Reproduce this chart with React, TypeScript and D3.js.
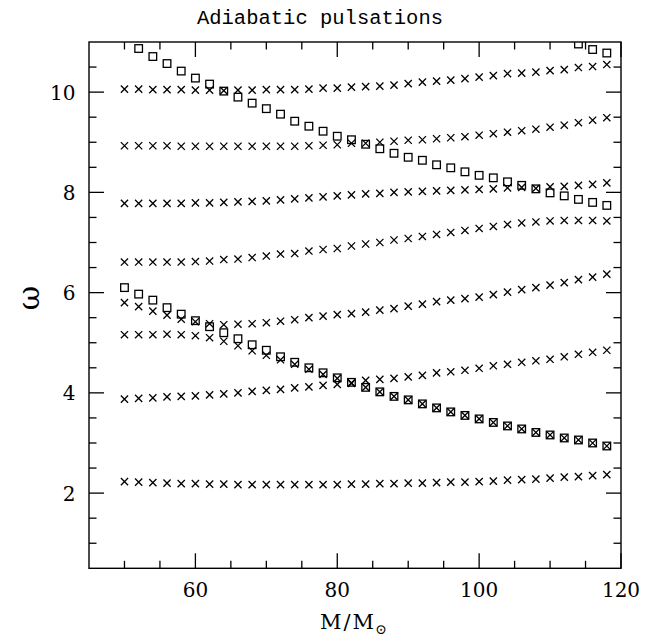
import React from "react";
import * as d3 from "d3";

// Stellar mass (M/Msun) for each model
const masses = [50, 52, 54, 56, 58, 60, 62, 64, 66, 68, 70, 72, 74, 76, 78, 80, 82, 84, 86, 88, 90, 92, 94, 96, 98, 100, 102, 104, 106, 108, 110, 112, 114, 116, 118];

// Cross markers: adiabatic mode frequencies (omega), one array per branch
const crossBranch1 = [2.23, 2.22, 2.21, 2.20, 2.19, 2.19, 2.18, 2.18, 2.17, 2.17, 2.17, 2.17, 2.17, 2.17, 2.17, 2.17, 2.18, 2.18, 2.19, 2.19, 2.20, 2.20, 2.21, 2.22, 2.22, 2.23, 2.24, 2.26, 2.27, 2.28, 2.30, 2.32, 2.33, 2.35, 2.37];
const crossBranch2 = [3.875, 3.89, 3.90, 3.92, 3.93, 3.94, 3.96, 3.98, 4.00, 4.03, 4.05, 4.07, 4.10, 4.12, 4.15, 4.17, 4.19, 4.11, 4.02, 3.93, 3.86, 3.78, 3.70, 3.62, 3.55, 3.48, 3.41, 3.34, 3.28, 3.21, 3.16, 3.10, 3.06, 3.00, 2.94];
const crossBranch3 = [5.16, 5.16, 5.16, 5.17, 5.16, 5.14, 5.10, 5.03, 4.94, 4.84, 4.75, 4.66, 4.57, 4.47, 4.37, 4.29, 4.20, 4.25, 4.27, 4.29, 4.32, 4.35, 4.40, 4.42, 4.45, 4.49, 4.54, 4.57, 4.61, 4.64, 4.67, 4.72, 4.77, 4.81, 4.85];
const crossBranch4 = [5.80, 5.72, 5.63, 5.55, 5.47, 5.42, 5.38, 5.36, 5.37, 5.38, 5.40, 5.43, 5.46, 5.50, 5.53, 5.56, 5.58, 5.61, 5.65, 5.68, 5.73, 5.77, 5.82, 5.85, 5.88, 5.91, 5.96, 6.01, 6.06, 6.10, 6.15, 6.20, 6.26, 6.31, 6.37];
const crossBranch5 = [6.61, 6.61, 6.61, 6.61, 6.61, 6.62, 6.63, 6.66, 6.67, 6.70, 6.73, 6.77, 6.78, 6.83, 6.86, 6.88, 6.93, 6.97, 7.00, 7.05, 7.08, 7.12, 7.16, 7.20, 7.24, 7.28, 7.32, 7.36, 7.39, 7.41, 7.43, 7.44, 7.44, 7.44, 7.43];
const crossBranch6 = [7.78, 7.78, 7.78, 7.78, 7.78, 7.79, 7.79, 7.80, 7.81, 7.82, 7.83, 7.85, 7.87, 7.89, 7.91, 7.93, 7.95, 7.97, 7.98, 8.00, 8.01, 8.02, 8.03, 8.04, 8.05, 8.06, 8.07, 8.09, 8.10, 8.08, 8.11, 8.12, 8.14, 8.16, 8.19];
const crossBranch7 = [8.93, 8.93, 8.93, 8.93, 8.92, 8.92, 8.92, 8.92, 8.92, 8.92, 8.92, 8.92, 8.92, 8.93, 8.94, 8.95, 8.98, 8.98, 9.00, 9.02, 9.04, 9.05, 9.07, 9.09, 9.11, 9.14, 9.17, 9.20, 9.23, 9.26, 9.30, 9.34, 9.39, 9.44, 9.49];
const crossBranch8 = [10.06, 10.06, 10.05, 10.05, 10.05, 10.04, 10.04, 10.03, 10.04, 10.04, 10.05, 10.05, 10.05, 10.06, 10.08, 10.08, 10.10, 10.11, 10.12, 10.14, 10.17, 10.20, 10.22, 10.24, 10.27, 10.30, 10.33, 10.37, 10.38, 10.40, 10.43, 10.45, 10.49, 10.51, 10.55];

// Square markers: tracked mode
const squareMassesA = [52, 54, 56, 58, 60, 62, 64, 66, 68, 70, 72, 74, 76, 78, 80, 82, 84, 86, 88, 90, 92, 94, 96, 98, 100, 102, 104, 106, 108, 110, 112, 114, 116, 118];
const squareOmegaA = [10.87, 10.71, 10.57, 10.42, 10.28, 10.16, 10.02, 9.90, 9.78, 9.67, 9.56, 9.42, 9.32, 9.22, 9.12, 9.05, 8.96, 8.87, 8.78, 8.70, 8.64, 8.55, 8.49, 8.41, 8.34, 8.29, 8.21, 8.14, 8.07, 7.99, 7.93, 7.86, 7.80, 7.74];
const squareMassesB = [114, 116, 118];
const squareOmegaB = [10.96, 10.85, 10.78];
const squareMassesC = [50, 52, 54, 56, 58, 60, 62, 64, 66, 68, 70, 72, 74, 76, 78, 80, 82, 84, 86, 88, 90, 92, 94, 96, 98, 100, 102, 104, 106, 108, 110, 112, 114, 116, 118];
const squareOmegaC = [6.10, 5.97, 5.85, 5.70, 5.57, 5.44, 5.32, 5.20, 5.08, 4.96, 4.85, 4.72, 4.61, 4.50, 4.40, 4.30, 4.21, 4.11, 4.02, 3.93, 3.86, 3.78, 3.70, 3.62, 3.55, 3.48, 3.41, 3.34, 3.28, 3.21, 3.16, 3.10, 3.06, 3.00, 2.94];

// Axis ticks
const xMajorTicks = [60, 80, 100, 120];
const xMinorTicks = [50, 55, 65, 70, 75, 85, 90, 95, 105, 110, 115];
const yMajorTicks = [2, 4, 6, 8, 10];
const yMinorTicks = [1, 1.5, 2.5, 3, 3.5, 4.5, 5, 5.5, 6.5, 7, 7.5, 8.5, 9, 9.5, 10.5];

const title = "Adiabatic pulsations";
const xLabel = "M/M";
const xLabelSub = "\u2299";
const yLabel = "\u03c9";

const W = 667;
const H = 644;
const L = 89, R = 621, T = 42, B = 568.3;

export default function App() {
  const x = d3.scaleLinear().domain([45, 120]).range([L, R]);
  const y = d3.scaleLinear().domain([0.5, 11]).range([B, T]);

  const crossSets = [crossBranch1, crossBranch2, crossBranch3, crossBranch4, crossBranch5, crossBranch6, crossBranch7, crossBranch8];
  const squareSets: [number[], number[]][] = [
    [squareMassesA, squareOmegaA],
    [squareMassesB, squareOmegaB],
    [squareMassesC, squareOmegaC],
  ];

  const cs = 3.6; // cross half-size
  const ss = 3.8; // square half-size
  const crossPath = `M${-cs},${-cs}L${cs},${cs}M${-cs},${cs}L${cs},${-cs}`;
  const bigT = 15, smallT = 7.5;
  const tickFont = "'DejaVu Serif', serif";

  return (
    <svg width={W} height={H} style={{ position: "absolute", left: 0, top: 0, background: "#fff" }}>
      <defs>
        <clipPath id="plotclip">
          <rect x={L} y={T} width={R - L} height={B - T} />
        </clipPath>
      </defs>
      <rect x={0} y={0} width={W} height={H} fill="#fff" />
      <text x={320} y={24} textAnchor="middle" fontFamily="'Liberation Mono', monospace" fontSize={20.5} fill="#000">
        {title}
      </text>

      {/* frame */}
      <rect x={L} y={T} width={R - L} height={B - T} fill="none" stroke="#000" strokeWidth={1.4} />

      {/* x ticks (bottom and top) */}
      {xMajorTicks.map((t) => (
        <g key={"xM" + t}>
          <line x1={x(t)} x2={x(t)} y1={B} y2={B - bigT} stroke="#000" strokeWidth={1.3} />
          <line x1={x(t)} x2={x(t)} y1={T} y2={T + bigT} stroke="#000" strokeWidth={1.3} />
          <text x={x(t)} y={597} textAnchor="middle" fontFamily={tickFont} fontSize={20} fill="#000">
            {t}
          </text>
        </g>
      ))}
      {xMinorTicks.map((t) => (
        <g key={"xm" + t}>
          <line x1={x(t)} x2={x(t)} y1={B} y2={B - smallT} stroke="#000" strokeWidth={1.3} />
          <line x1={x(t)} x2={x(t)} y1={T} y2={T + smallT} stroke="#000" strokeWidth={1.3} />
        </g>
      ))}

      {/* y ticks (left and right) */}
      {yMajorTicks.map((t) => (
        <g key={"yM" + t}>
          <line x1={L} x2={L + bigT} y1={y(t)} y2={y(t)} stroke="#000" strokeWidth={1.3} />
          <line x1={R} x2={R - bigT} y1={y(t)} y2={y(t)} stroke="#000" strokeWidth={1.3} />
          <text x={75.5} y={y(t) + 7.5} textAnchor="end" fontFamily={tickFont} fontSize={20} fill="#000">
            {t}
          </text>
        </g>
      ))}
      {yMinorTicks.map((t) => (
        <g key={"ym" + t}>
          <line x1={L} x2={L + smallT} y1={y(t)} y2={y(t)} stroke="#000" strokeWidth={1.3} />
          <line x1={R} x2={R - smallT} y1={y(t)} y2={y(t)} stroke="#000" strokeWidth={1.3} />
        </g>
      ))}

      {/* axis labels */}
      <text x={320} y={629} textAnchor="start" fontFamily={tickFont} fontSize={21} letterSpacing={2} fill="#000">
        {xLabel}
        <tspan fontSize={14} dy={5} dx={-1}>{xLabelSub}</tspan>
      </text>
      <text
        x={0}
        y={0}
        transform="translate(28,298) rotate(-90)"
        textAnchor="middle"
        dominantBaseline="central"
        fontFamily={tickFont}
        fontSize={30}
        fill="#000"
      >
        {yLabel}
      </text>

      {/* markers */}
      <g clipPath="url(#plotclip)">
        {squareSets.map(([ms, ws], si) =>
          ms.map((m, i) => (
            <rect
              key={`s${si}-${i}`}
              x={x(m) - ss}
              y={y(ws[i]) - ss}
              width={2 * ss}
              height={2 * ss}
              fill="none"
              stroke="#000"
              strokeWidth={1.3}
            />
          ))
        )}
        {crossSets.map((ws, ci) =>
          ws.map((w, i) => (
            <path
              key={`c${ci}-${i}`}
              d={crossPath}
              transform={`translate(${x(masses[i])},${y(w)})`}
              fill="none"
              stroke="#000"
              strokeWidth={1.3}
            />
          ))
        )}
      </g>
    </svg>
  );
}
